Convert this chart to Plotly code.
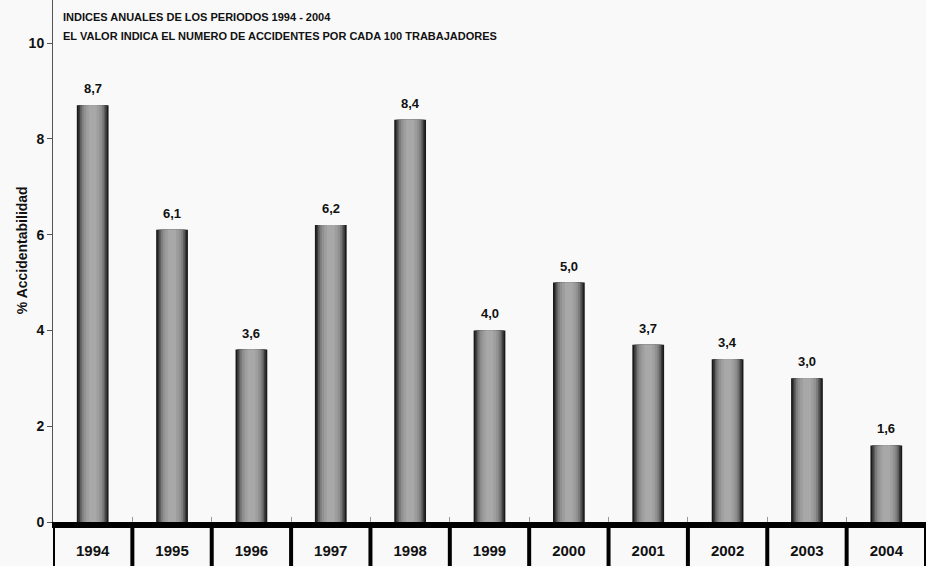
import plotly.graph_objects as go

# data
years = ["1994", "1995", "1996", "1997", "1998", "1999", "2000", "2001", "2002", "2003", "2004"]
rates = [8.7, 6.1, 3.6, 6.2, 8.4, 4.0, 5.0, 3.7, 3.4, 3.0, 1.6]
y_ticks = [0, 2, 4, 6, 8, 10]

title_lines = [
    "INDICES ANUALES DE LOS PERIODOS 1994 - 2004",
    "EL VALOR INDICA EL NUMERO DE ACCIDENTES POR CADA 100 TRABAJADORES",
]

FONT = "Liberation Sans, Arial, sans-serif"
BG = "#f9f9f9"

# cylinder look: stacked bars, narrow light core over a wide dark body
_shades = [
    (0.40, "#1a1a1a"),
    (0.36, "#3a3a3a"),
    (0.32, "#5e5e5e"),
    (0.28, "#7c7c7c"),
    (0.23, "#919191"),
    (0.17, "#9e9e9e"),
    (0.10, "#a8a8a8"),
]

fig = go.Figure()
for w, col in _shades:
    fig.add_trace(
        go.Bar(
            x=years,
            y=rates,
            width=w,
            marker=dict(color=col, line=dict(width=0)),
            showlegend=False,
            hoverinfo="skip",
        )
    )

# value labels above each bar
for i, v in enumerate(rates):
    fig.add_annotation(
        x=i, y=v, xref="x", yref="y", text=f"{v:.1f}".replace(".", ","),
        showarrow=False, yanchor="bottom", yshift=7,
        font=dict(family=FONT, size=13, color="#111", weight="bold"),
    )

# header text inside the plot
for i, line in enumerate(title_lines):
    fig.add_annotation(
        xref="paper", yref="paper", x=0.009, y=0.968 - i * 0.037,
        xanchor="left", yanchor="middle", text=line, showarrow=False,
        font=dict(family=FONT, size=11, color="#111", weight="bold"),
    )

# y axis title
fig.add_annotation(
    xref="paper", yref="paper", x=-0.0245, y=0.52, text="% Accidentabilidad",
    textangle=-90, showarrow=False, xanchor="right", yanchor="middle",
    font=dict(family=FONT, size=14, color="#111", weight="bold"),
)

# table of years under the axis
for i in range(len(years) + 1):
    fig.add_shape(
        type="line", xref="x", yref="paper",
        x0=i - 0.5, x1=i - 0.5, y0=-0.12, y1=0,
        line=dict(color="#000", width=4),
    )

fig.update_layout(
    width=926,
    height=566,
    margin=dict(l=53, r=0, t=0, b=44),
    paper_bgcolor=BG,
    plot_bgcolor=BG,
    barmode="overlay",
    font=dict(family=FONT, size=12, color="#111"),
)
fig.update_xaxes(
    type="category",
    automargin=False,
    showline=True, linecolor="#000", linewidth=6,
    ticks="inside", tickson="boundaries", ticklen=5, tickcolor="#999",
    tickfont=dict(family=FONT, size=15, color="#111", weight="bold"),
    ticklabelstandoff=10,
    showgrid=False,
    range=[-0.5, len(years) - 0.5],
)
fig.update_yaxes(
    automargin=False,
    range=[0, 10.9],
    tickvals=y_ticks,
    showline=True, linecolor="#555", linewidth=1,
    ticks="outside", ticklen=5, tickcolor="#555",
    tickfont=dict(family=FONT, size=14, color="#111", weight="bold"),
    showgrid=False, zeroline=False,
)

# drop the browser's default body margin so the figure sits at the page origin
fig.write_html(
    "out.html",
    config={"displayModeBar": False},
    post_script="document.body.style.margin='0';",
)
